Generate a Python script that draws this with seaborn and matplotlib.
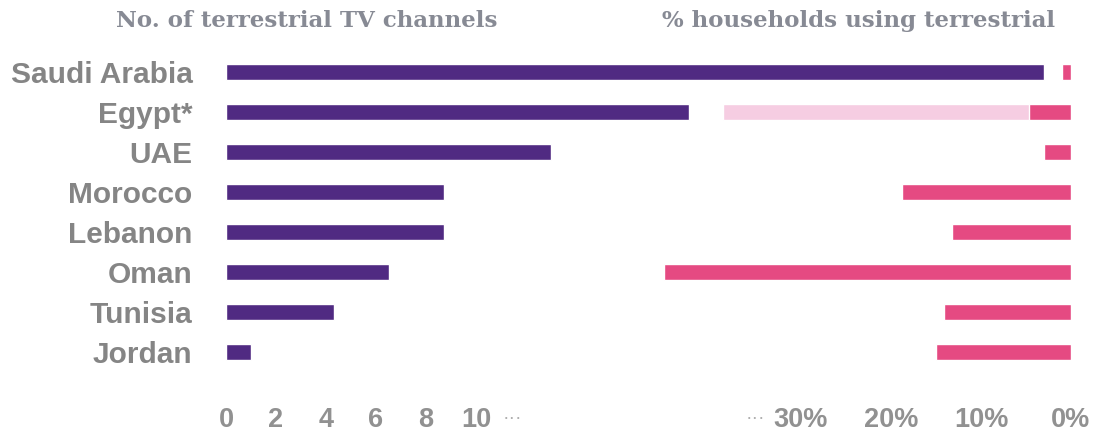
import pandas as pd
import matplotlib
matplotlib.use('Agg')
import matplotlib.pyplot as plt
import seaborn as sns

# values
countries = ['Saudi Arabia', 'Egypt*', 'UAE', 'Morocco', 'Lebanon', 'Oman', 'Tunisia', 'Jordan']
n_channels = [32.7, 18.5, 13.0, 8.7, 8.7, 6.5, 4.3, 1.0]
pct_terrestrial = [1.0, 4.7, 3.0, 18.8, 13.2, 45.2, 14.1, 15.0]
pct_egypt_extra = [0, 38.7, 0, 0, 0, 0, 0, 0]   # light pink part of Egypt's bar

channel_ticks = [0, 2, 4, 6, 8, 10]
pct_ticks = [0, 10, 20, 30]
pct_tick_labels = ['0%', '10%', '20%', '30%']

PURPLE = '#502a82'
PINK = '#e54a82'
LIGHT_PINK = '#f6cde2'
GREY = '#858585'
TICK_GREY = '#919191'
TITLE_GREY = '#878a94'

sns.set_style('white')
plt.rcParams['font.family'] = ['Liberation Sans', 'DejaVu Sans']

df = pd.DataFrame({'country': countries, 'channels': n_channels,
                   'pct': pct_terrestrial, 'pct_extra': pct_egypt_extra})

W, H = 1095, 432
fig = plt.figure(figsize=(W / 100, H / 100), dpi=100)
ax = fig.add_axes([226 / W, 1 - 372 / H, 845 / W, 320 / H])

# left: number of channels (purple)
sns.barplot(data=df, x='channels', y='country', color=PURPLE, saturation=1,
            width=0.4, ax=ax)
ax.set_xlim(0, 845 / 25)

# right: % households, reversed axis sharing the rows
ax2 = ax.twiny()
sns.barplot(data=df, x='pct_extra', y='country', color=LIGHT_PINK, saturation=1,
            width=0.4, ax=ax2)
sns.barplot(data=df, x='pct', y='country', color=PINK, saturation=1,
            width=0.4, ax=ax2)
ax2.set_xlim(845 / 9, 0)
ax.set_ylim(7.5, -0.5)

for a in (ax, ax2):
    sns.despine(ax=a, left=True, bottom=True)
    a.spines['top'].set_visible(False)
    a.set_xlabel('')
    a.set_ylabel('')

ax.set_xticks(channel_ticks)
ax.set_xticklabels([str(t) for t in channel_ticks])
ax2.xaxis.tick_bottom()
ax2.set_xticks(pct_ticks)
ax2.set_xticklabels(pct_tick_labels)
for a in (ax, ax2):
    a.tick_params(axis='x', length=0, pad=25, labelsize=19.5, labelcolor=TICK_GREY)
    for lbl in a.get_xticklabels():
        lbl.set_fontweight('bold')

ax.tick_params(axis='y', length=0, pad=24, labelsize=21.5, labelcolor=GREY)
for lbl in ax.get_yticklabels():
    lbl.set_fontweight('bold')

# "..." marking the axis break
ax.text(11.45, -0.145, '\u00b7\u00b7\u00b7', transform=ax.get_xaxis_transform(),
        ha='center', va='center', color='#b0b0b0', fontsize=14)
ax2.text(35.1, -0.145, '\u00b7\u00b7\u00b7', transform=ax2.get_xaxis_transform(),
         ha='center', va='center', color='#b0b0b0', fontsize=14)

# column headers
fig.text(307 / W, 1 - 21 / H, 'No. of terrestrial TV channels', ha='center', va='center',
         family='DejaVu Serif', weight='bold', size=16.5, color=TITLE_GREY)
fig.text(859 / W, 1 - 21 / H, '% households using terrestrial', ha='center', va='center',
         family='DejaVu Serif', weight='bold', size=16.5, color=TITLE_GREY)

fig.savefig('out.png', dpi=100)
